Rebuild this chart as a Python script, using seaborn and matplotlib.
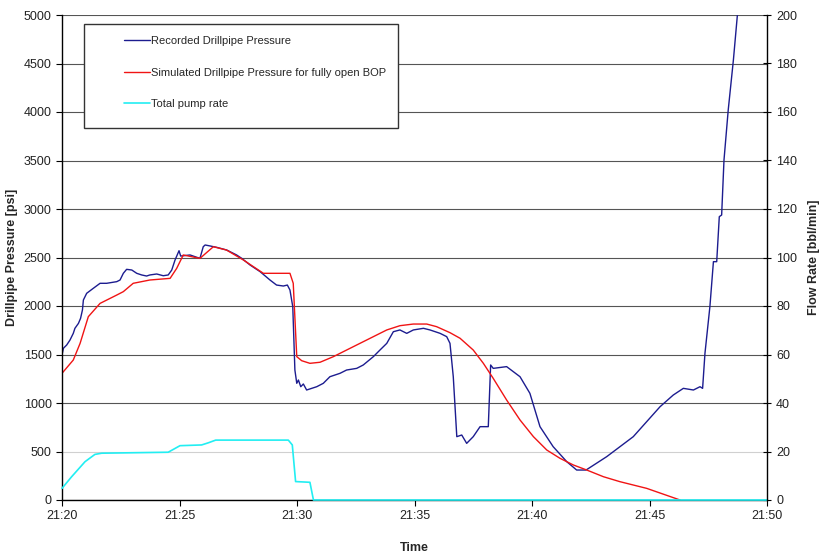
import matplotlib
matplotlib.use('Agg')
import matplotlib.pyplot as plt
import seaborn as sns
from matplotlib.patches import Rectangle

# minutes after 21:20
t_rec = [0.0, 0.06, 0.2, 0.34, 0.48, 0.55, 0.7, 0.79, 0.87, 0.91, 1.05, 1.33, 1.62, 1.9, 2.33, 2.47,
         2.61, 2.75, 2.97, 3.18, 3.39, 3.6, 3.74, 4.03, 4.31, 4.52, 4.67, 4.81, 4.98, 5.05, 5.45, 5.87,
         6.01, 6.09, 6.3, 6.58, 7.01, 7.43, 7.65, 8.0, 8.43, 8.85, 9.13, 9.42, 9.59, 9.7, 9.82, 9.91,
         9.99, 10.06, 10.16, 10.27, 10.41, 10.84, 11.12, 11.4, 11.83, 12.11, 12.54, 12.82, 13.25, 13.53,
         13.82, 14.1, 14.38, 14.67, 14.95, 15.38, 15.66, 16.09, 16.37, 16.51, 16.65, 16.8, 17.01, 17.22,
         17.5, 17.79, 18.14, 18.24, 18.35, 18.92, 19.49, 19.91, 20.34, 20.9, 21.48, 21.9, 22.3, 23.18,
         24.31, 25.45, 26.01, 26.44, 26.87, 27.15, 27.26, 27.36, 27.57, 27.72, 27.86, 27.97, 28.07,
         28.17, 28.35, 28.57, 28.74, 28.9]
p_rec = [1495, 1564, 1598, 1649, 1718, 1770, 1821, 1873, 1959, 2062, 2131, 2182, 2234, 2234, 2251, 2268,
         2337, 2378, 2371, 2337, 2320, 2309, 2320, 2330, 2312, 2320, 2371, 2474, 2570, 2515, 2526, 2491,
         2611, 2629, 2619, 2605, 2577, 2526, 2491, 2423, 2354, 2268, 2216, 2206, 2216, 2165, 1993, 1340,
         1203, 1237, 1168, 1196, 1134, 1168, 1203, 1271, 1306, 1340, 1357, 1392, 1478, 1546,
         1615, 1735, 1753, 1718, 1753, 1770, 1753, 1718, 1684, 1615, 1271, 653, 670, 584,
         653, 756, 756, 1392, 1357, 1375, 1271, 1100, 756, 550, 395, 309, 309, 447,
         653, 962, 1082, 1151, 1134, 1168, 1151, 1512, 1993, 2457, 2457, 2921, 2938,
         3505, 4021, 4536, 5000, 5450]

t_sim = [0.0, 0.48, 0.77, 1.12, 1.62, 2.33, 2.61, 3.03, 3.74, 4.6, 4.88, 5.16, 5.87, 6.44, 7.0, 7.72,
         8.57, 9.7, 9.84, 9.99, 10.2, 10.55, 10.98, 11.55, 12.11, 12.68, 13.25, 13.82, 14.38, 14.95,
         15.52, 15.94, 16.51, 16.94, 17.5, 17.93, 18.35, 18.92, 19.49, 20.06, 20.63, 21.19, 21.76,
         22.33, 23.04, 23.74, 24.88, 26.3]
p_sim = [1306, 1443, 1615, 1890, 2027, 2113, 2148, 2234, 2268, 2285, 2388, 2526, 2491, 2611, 2577, 2474,
         2337, 2337, 2234, 1478, 1436, 1409, 1420, 1478, 1546, 1615, 1684, 1753, 1797, 1814,
         1814, 1787, 1725, 1667, 1546, 1409, 1254, 1031, 825, 653, 515, 430, 361,
         309, 240, 189, 120, 0]

t_pump = [0.0, 0.41, 0.98, 1.4, 1.69, 4.52, 5.02, 5.94, 6.23, 6.54, 9.63, 9.8, 9.94, 10.55, 10.7, 30.0]
q_pump = [4.8, 9.6, 15.8, 18.8, 19.3, 19.7, 22.4, 22.7, 23.6, 24.7, 24.7, 22.7, 7.6, 7.3, 0, 0]

tick_minutes = [0, 5, 10, 15, 20, 25, 30]
tick_labels = ['21:20', '21:25', '21:30', '21:35', '21:40', '21:45', '21:50']

sns.set_theme(style='white')
plt.rcParams['font.family'] = ['Liberation Sans', 'DejaVu Sans']

fig = plt.figure(figsize=(8.21, 5.53), dpi=100)
ax = fig.add_axes([62 / 821, 53 / 553, 705 / 821, 485 / 553])

sns.lineplot(x=t_rec, y=p_rec, ax=ax, color='#1c1c8f', lw=1.0, estimator=None, sort=False,
             label='Recorded Drillpipe Pressure', legend=False)
sns.lineplot(x=t_sim, y=p_sim, ax=ax, color='#f01414', lw=1.0, estimator=None, sort=False,
             label='Simulated Drillpipe Pressure for fully open BOP', legend=False)

ax.set_xlim(0, 30)
ax.set_ylim(0, 5000)
ax.set_yticks(range(0, 5001, 500))
ax.set_xticks(tick_minutes)
ax.set_xticklabels(tick_labels)
ax.yaxis.grid(True, color='#555555', lw=0.8)
ax.get_ygridlines()[1].set_color('#d0d0d0')
ax.xaxis.grid(False)
ax.tick_params(axis='both', labelsize=9, colors='#222222')
ax.tick_params(axis='y', left=True, direction='out', length=4, width=0.8, color='black')
ax.tick_params(axis='x', bottom=True, direction='out', length=4, width=0.8, color='black')
for s in ['top', 'right']:
    ax.spines[s].set_visible(False)
for s in ['left', 'bottom']:
    ax.spines[s].set_color('black')
    ax.spines[s].set_linewidth(1.0)
ax.set_ylabel('Drillpipe Pressure [psi]', fontsize=9, fontweight='bold')
ax.set_xlabel('Time', fontsize=9, fontweight='bold', labelpad=14)

ax2 = ax.twinx()
sns.lineplot(x=t_pump, y=q_pump, ax=ax2, color='#22eef2', lw=1.2, estimator=None, sort=False,
             label='Total pump rate', legend=False)
ax2.lines[0].set_clip_on(False)
ax2.set_ylim(0, 200)
ax2.set_yticks(range(0, 201, 20))
ax2.grid(False)
for s in ['top', 'left', 'bottom']:
    ax2.spines[s].set_visible(False)
ax2.spines['right'].set_color('black')
ax2.spines['right'].set_linewidth(1.0)
ax2.tick_params(axis='y', right=True, direction='inout', length=6, width=0.8, color='black',
                labelsize=9, colors='#222222')
ax2.set_ylabel('Flow Rate [bbl/min]', fontsize=9, fontweight='bold', labelpad=8)

# legend box
ax2.add_patch(Rectangle((0.0312, 0.767), 0.4454, 0.2144, transform=ax2.transAxes,
                        facecolor='white', edgecolor='#333333', lw=1.0, zorder=5))
handles = ax.lines + ax2.lines
labels = [h.get_label() for h in handles]
leg = ax2.legend(handles, labels, loc='upper left', bbox_to_anchor=(0.088, 0.957),
                 frameon=False, borderpad=0, borderaxespad=0, fontsize=8, labelspacing=1.95,
                 handlelength=2.3, handletextpad=0.15)
leg.set_zorder(6)

fig.savefig('out.png', dpi=100)
